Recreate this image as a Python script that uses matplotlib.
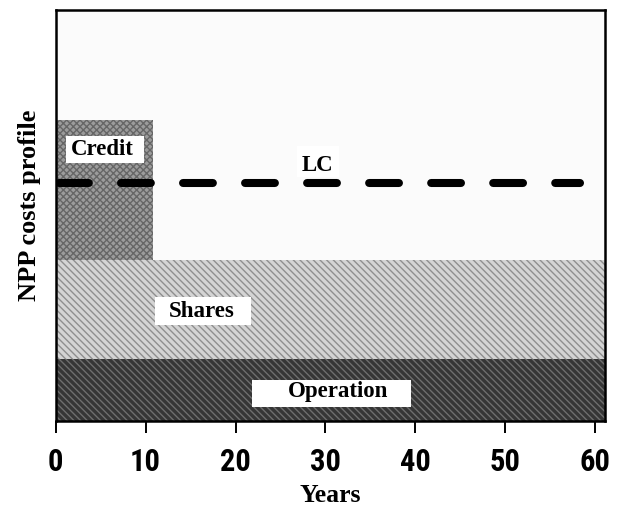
import matplotlib
matplotlib.use("Agg")
import matplotlib.pyplot as plt
from matplotlib import font_manager
from matplotlib.patches import Rectangle

# cost components of the NPP profile (arbitrary units, no y scale in source)
components = ["Operation", "Shares", "Credit"]
comp_start = [0.0, 0.0, 0.0]
comp_years = [61.1, 61.1, 10.86]
comp_base = [0.0, 1.5, 3.91]
comp_height = [1.5, 2.41, 3.41]

lc_years = [0.37, 58.3]
lc_level = [5.78, 5.78]

xticks = [0, 10, 20, 30, 40, 50, 60]

# label text centre and white box (x0, x1, y0, y1) in data units
labels = ["Credit", "LC", "Shares", "Operation"]
label_xy = [(5.15, 6.60), (29.12, 6.22), (16.24, 2.66), (31.4, 0.72)]
label_box = [(1.12, 9.86, 6.27, 6.93), (26.84, 31.51, 5.94, 6.68),
             (11.05, 21.69, 2.33, 3.0), (21.8, 39.5, 0.34, 1.0)]

fonts = font_manager.fontManager.ttflist
names = {f.name for f in fonts}
serif = "Liberation Serif" if "Liberation Serif" in names else "DejaVu Serif"

# narrow bold sans for the tick numbers, if one is installed
tick_font = None
for cand in ["Liberation Sans Narrow", "Arial Narrow", "DejaVu Sans Condensed",
             "Roboto Condensed", "Open Sans Condensed", "Noto Sans Condensed"]:
    if cand in names:
        tick_font = dict(family=cand, weight="bold", size=22)
        break
if tick_font is None:
    cond = [f for f in fonts if "condensed" in str(f.stretch).lower()
            and "sans" in f.name.lower() and "mono" not in f.name.lower()]
    if cond:
        tick_font = dict(family=cond[0].name, stretch=cond[0].stretch, weight="bold", size=22)
    else:
        tick_font = dict(family="Liberation Sans", weight="bold", size=22)

plt.rcParams["hatch.linewidth"] = 1.0

fig = plt.figure(figsize=(6.19, 5.11), dpi=100)
ax = fig.add_axes([0.09, 0.1767, 0.8875, 0.8037])
ax.set_facecolor("#fbfbfb")

styles = {
    "Operation": dict(facecolor="#363636", edgecolor="#6e6e6e", hatch="\\" * 5),
    "Shares": dict(facecolor="#d4d4d4", edgecolor="#8e8e8e", hatch="\\" * 5),
    "Credit": dict(facecolor="#9c9c9c", edgecolor="#666666", hatch="x" * 5),
}
for name, x0, w, b, h in zip(components, comp_start, comp_years, comp_base, comp_height):
    ax.bar(x0, h, width=w, bottom=b, align="edge", linewidth=0, zorder=1, **styles[name])

ax.plot(lc_years, lc_level, color="black", linewidth=5.8, dashes=(3.7, 4.0),
        dash_capstyle="round", zorder=3)

for txt, (tx, ty), (x0, x1, y0, y1) in zip(labels, label_xy, label_box):
    ax.add_patch(Rectangle((x0, y0), x1 - x0, y1 - y0, facecolor="white",
                           edgecolor="none", zorder=4))
    ax.text(tx, ty, txt, ha="center", va="center", family=serif,
            weight="bold", size=16.5, zorder=5)

ax.set_xlim(0, 61.1)
ax.set_ylim(0, 10)
ax.set_xticks(xticks)
ax.set_xticklabels([str(t) for t in xticks], **tick_font)
ax.set_yticks([])
ax.tick_params(axis="x", direction="out", length=8.5, width=1.4, pad=10.5)
for s in ax.spines.values():
    s.set_linewidth(1.8)

ax.set_xlabel("Years", family=serif, weight="bold", size=18.5, labelpad=5)
ax.set_ylabel("NPP costs profile", family=serif, weight="bold", size=19)
ax.yaxis.set_label_coords(-0.027, 0.525)

fig.savefig("out.png", dpi=100)
